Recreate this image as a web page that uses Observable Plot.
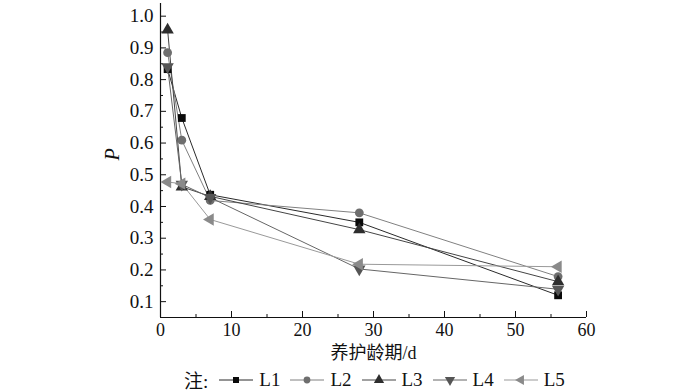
<!DOCTYPE html>
<html>
<head>
<meta charset="utf-8">
<script src="https://cdn.jsdelivr.net/npm/d3@7"></script>
<script src="https://cdn.jsdelivr.net/npm/@observablehq/plot@0.6"></script>
<style>
  body { margin: 0; background: #fff; width: 700px; height: 391px; overflow: hidden; }
  #chart svg { display: block; }
  #legend { height: 29px; display: flex; align-items: center; justify-content: flex-start; padding-left: 184px;
    font-family: "Liberation Serif", "Noto Sans CJK SC", serif; font-size: 19px; color: #111; margin-top: 3px; }
  #legend .item { display: flex; align-items: center; margin-right: 10px; }
  #legend .item svg { margin-right: 6px; }
  #legend .note { margin-right: 11px; }
</style>
</head>
<body>
<div id="chart"></div>
<div id="legend"></div>
<script>
const days = [1, 3, 7, 28, 56];
const seriesNames = ["L1", "L2", "L3", "L4", "L5"];
const L1 = [0.833, 0.679, 0.437, 0.350, 0.120];
const L2 = [0.885, 0.609, 0.419, 0.380, 0.179];
const L3 = [0.957, 0.462, 0.432, 0.327, 0.163];
const L4 = [0.840, 0.470, 0.428, 0.203, 0.139];
const L5 = [0.477, 0.472, 0.359, 0.218, 0.210];
const yTicks = [0.1, 0.2, 0.3, 0.4, 0.5, 0.6, 0.7, 0.8, 0.9, 1.0];
const xTicks = [0, 10, 20, 30, 40, 50, 60];

const values = [L1, L2, L3, L4, L5];
const styles = [
  {symbol: "square", rotate: 0, fill: "#0a0a0a", line: "#2a2a2a"},
  {symbol: "circle", rotate: 0, fill: "#6e6e6e", line: "#808080"},
  {symbol: "triangle", rotate: 0, fill: "#2e2e2e", line: "#444444"},
  {symbol: "triangle", rotate: 180, fill: "#555555", line: "#666666"},
  {symbol: "triangle", rotate: -90, fill: "#8a8a8a", line: "#999999"}
];

const rows = [];
seriesNames.forEach((s, i) => days.forEach((d, j) => rows.push({series: s, day: d, p: values[i][j]})));

const minorY = d3.range(0.05, 1.04, 0.05).map(v => +v.toFixed(2)).filter(v => !yTicks.some(t => Math.abs(t - v) < 1e-6));
const minorX = [5, 15, 25, 35, 45, 55];

const font = '"Liberation Serif", "Noto Sans CJK SC", serif';

const lineMarks = seriesNames.map((s, i) =>
  Plot.line(rows.filter(r => r.series === s), {x: "day", y: "p", stroke: styles[i].line, strokeWidth: 1}));
const dotMarks = seriesNames.map((s, i) =>
  Plot.dot(rows.filter(r => r.series === s), {x: "day", y: "p", symbol: styles[i].symbol === "triangle" ? d3.symbolTriangle : styles[i].symbol,
    rotate: styles[i].rotate, r: styles[i].symbol === "triangle" ? 4.6 : 4.4, fill: styles[i].fill, stroke: "none"}));

const chart = Plot.plot({
  width: 700,
  height: 362,
  marginLeft: 160,
  marginRight: 114,
  marginTop: 3,
  marginBottom: 45,
  style: {fontFamily: font, fontSize: "18px", color: "#111", background: "#fff"},
  x: {domain: [0, 60]},
  y: {domain: [0.05, 1.04]},
  marks: [
    Plot.axisY({ticks: yTicks, tickSize: -6, tickPadding: 13, tickFormat: d3.format(".1f"), label: null, fontSize: 19}),
    Plot.axisY({ticks: minorY, tickSize: -3, tickFormat: () => "", label: null}),
    Plot.axisX({ticks: xTicks, tickSize: -6, tickPadding: 12, tickFormat: d => d, label: null, fontSize: 18}),
    Plot.axisX({ticks: minorX, tickSize: -3, tickFormat: () => "", label: null}),
    Plot.ruleX([0], {stroke: "#111", strokeWidth: 1.2}),
    Plot.ruleY([0.05], {stroke: "#111", strokeWidth: 1.2}),
    ...lineMarks,
    ...dotMarks,
    Plot.text(["养护龄期/d"], {frameAnchor: "bottom", dy: 41, fontSize: 18, fill: "#111"}),
    Plot.text(["P"], {frameAnchor: "left", dx: -48, rotate: -90, fontSize: 20, fontStyle: "italic", fill: "#111"})
  ]
});
document.getElementById("chart").append(chart);

// legend
const legend = document.getElementById("legend");
const note = document.createElement("span");
note.className = "note";
note.textContent = "注:";
legend.append(note);
seriesNames.forEach((s, i) => {
  const item = document.createElement("span");
  item.className = "item";
  const st = styles[i];
  const sym = d3.symbol(st.symbol === "square" ? d3.symbolSquare : st.symbol === "circle" ? d3.symbolCircle : d3.symbolTriangle,
    Math.PI * (st.symbol === "triangle" ? 3.8 : 3.4) ** 2)();
  item.innerHTML = `<svg width="34" height="14" viewBox="0 0 34 14">
    <line x1="0" x2="34" y1="7" y2="7" stroke="${st.line}" stroke-width="1"/>
    <path d="${sym}" transform="translate(17,7) rotate(${st.rotate})" fill="${st.fill}"/>
  </svg><span>${s}</span>`;
  legend.append(item);
});
</script>
</body>
</html>
